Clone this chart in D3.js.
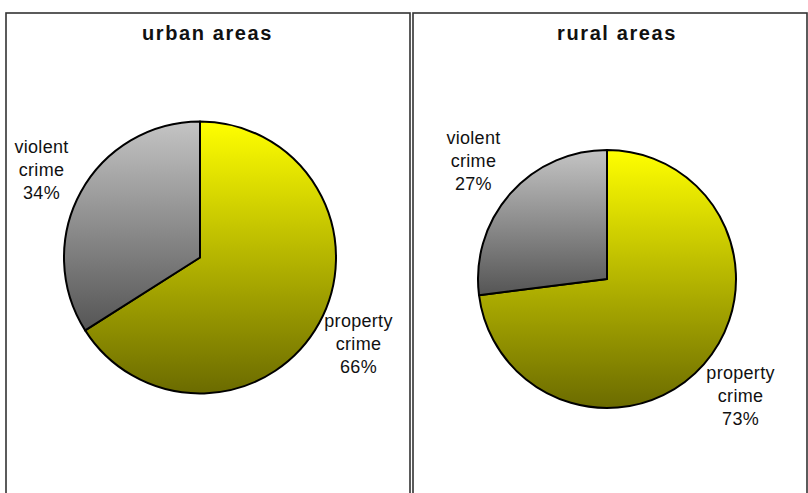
<!DOCTYPE html>
<html>
<head>
<meta charset="utf-8">
<script src="https://cdn.jsdelivr.net/npm/d3@7/dist/d3.min.js"></script>
<style>
  html, body { margin: 0; padding: 0; background: #fff; }
  svg { display: block; }
  text { font-family: "Liberation Sans", Arial, sans-serif; fill: #111; }
</style>
</head>
<body>
<svg id="chart" width="808" height="493"></svg>
<script>
// Share of recorded crime by type, urban vs rural (percent)
const regions = ["urban areas", "rural areas"];
const categories = ["property crime", "violent crime"];
const propertyShare = [66, 73];
const violentShare = [34, 27];

const W = 808, H = 493;
const svg = d3.select("#chart");

// Panel frames and pie geometry
const panels = [
  { x0: 6,   x1: 410, cx: 200, cy: 257.5, r: 136, labelK: 1.33 },
  { x0: 413, x1: 807, cx: 607, cy: 279,   r: 129, labelK: 1.38 }
];
const titleX = [207.5, 617];

// Vertical gradients per slice (bounding box of each slice)
const defs = svg.append("defs");
const gradStops = {
  "property crime": ["#ffff00", "#6b6b00"],
  "violent crime": ["#c4c4c4", "#555555"]
};
Object.entries(gradStops).forEach(([name, [c0, c1]], i) => {
  const g = defs.append("linearGradient")
    .attr("id", "grad" + i)
    .attr("x1", 0).attr("y1", 0).attr("x2", 0).attr("y2", 1);
  g.append("stop").attr("offset", "0%").attr("stop-color", c0);
  g.append("stop").attr("offset", "100%").attr("stop-color", c1);
});
const fillFor = d3.scaleOrdinal()
  .domain(categories)
  .range(["url(#grad0)", "url(#grad1)"]);

const pie = d3.pie().sort(null).value(d => d.value);

regions.forEach((region, i) => {
  const p = panels[i];
  const g = svg.append("g");

  // frame
  g.append("rect")
    .attr("x", p.x0).attr("y", 13)
    .attr("width", p.x1 - p.x0).attr("height", H)
    .attr("fill", "none")
    .attr("stroke", "#333")
    .attr("stroke-width", 1.6);

  // title
  g.append("text")
    .attr("x", titleX[i]).attr("y", 40)
    .attr("text-anchor", "middle")
    .attr("font-size", 20)
    .attr("font-weight", "bold")
    .attr("letter-spacing", 1.6)
    .text(region);

  const data = [
    { name: categories[0], value: propertyShare[i] },
    { name: categories[1], value: violentShare[i] }
  ];
  const arcs = pie(data);
  const arc = d3.arc().innerRadius(0).outerRadius(p.r);
  const labelArc = d3.arc().innerRadius(p.r * p.labelK).outerRadius(p.r * p.labelK);

  const pg = g.append("g").attr("transform", `translate(${p.cx},${p.cy})`);
  pg.selectAll("path")
    .data(arcs)
    .join("path")
    .attr("d", arc)
    .attr("fill", d => fillFor(d.data.name))
    .attr("stroke", "#000")
    .attr("stroke-width", 2)
    .attr("stroke-linejoin", "round");

  // labels: name split over two lines, then percent
  const lbl = pg.selectAll("text.lbl")
    .data(arcs)
    .join("text")
    .attr("class", "lbl")
    .attr("text-anchor", "middle")
    .attr("font-size", 18)
    .attr("letter-spacing", 0.3)
    .attr("transform", d => {
      const [x, y] = labelArc.centroid(d);
      return `translate(${x},${y})`;
    });
  lbl.each(function (d) {
    const lines = d.data.name.split(" ").concat([d.data.value + "%"]);
    const t = d3.select(this);
    lines.forEach((s, k) => {
      t.append("tspan")
        .attr("x", 0)
        .attr("y", (k - 1) * 23 + 5.5)
        .text(s);
    });
  });
});
</script>
</body>
</html>
